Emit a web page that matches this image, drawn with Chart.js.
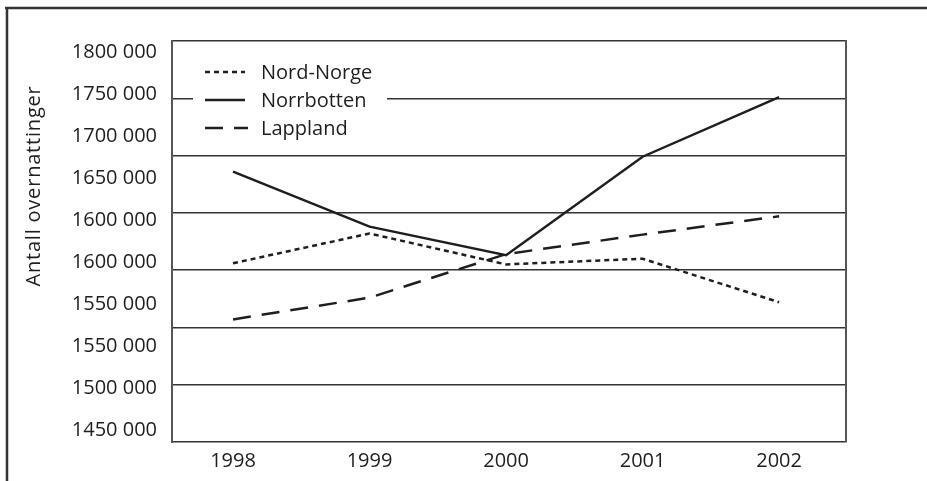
<!DOCTYPE html>
<html>
<head>
<meta charset="utf-8">
<script src="https://cdn.jsdelivr.net/npm/chart.js@4.4.1/dist/chart.umd.min.js"></script>
<style>
  body { margin: 0; background: #fff; }
  canvas { display: block; }
</style>
</head>
<body>
<canvas id="myChart" width="927" height="481"></canvas>
<script>
// data
const years = [1998, 1999, 2000, 2001, 2002];
const nordNorge  = [1606000, 1632000, 1605000, 1610000, 1572000];
const norrbotten = [1686000, 1638000, 1613000, 1699000, 1751000];
const lappland   = [1557000, 1576000, 1614000, 1631000, 1647000];

// the printed y labels (as in the original, duplicates included)
const yTickLabels = ['1800 000', '1750 000', '1700 000', '1650 000', '1600 000',
                     '1600 000', '1550 000', '1550 000', '1500 000', '1450 000'];
const yTitle = 'Antall overnattinger';

const ink = '#1e1e1e';
const fontFamily = '"Open Sans", sans-serif';
const fontSize = 20;

const toPoints = (arr) => arr.map((v, i) => ({ x: years[i], y: v }));

// legend box in the top left corner of the plot, white behind it
const boxLegend = {
  id: 'boxLegend',
  afterDatasetsDraw(chart) {
    const ctx = chart.ctx;
    ctx.save();
    ctx.fillStyle = '#fff';
    ctx.fillRect(193, 55, 194, 90);
    const rows = [72, 100, 128];
    chart.data.datasets.forEach((ds, i) => {
      const y = rows[i];
      ctx.beginPath();
      ctx.setLineDash(ds.borderDash || []);
      ctx.lineWidth = ds.borderWidth;
      ctx.strokeStyle = ds.borderColor;
      ctx.moveTo(205, y);
      ctx.lineTo(i === 2 ? 248 : 245, y);
      ctx.stroke();
      ctx.setLineDash([]);
      ctx.fillStyle = ink;
      ctx.font = `${fontSize}px ${fontFamily}`;
      ctx.textBaseline = 'middle';
      ctx.textAlign = 'left';
      ctx.fillText(ds.label, 261, y + 1);
    });
    ctx.restore();
  },
  afterDraw(chart) {
    const ctx = chart.ctx;
    ctx.save();
    // outer frame, top and left only
    ctx.strokeStyle = '#333';
    ctx.lineWidth = 2.5;
    ctx.beginPath();
    ctx.moveTo(5, 8);
    ctx.lineTo(927, 8);
    ctx.moveTo(7, 8);
    ctx.lineTo(7, 481);
    ctx.stroke();
    // rotated axis title
    ctx.translate(34, 186);
    ctx.rotate(-Math.PI / 2);
    ctx.font = `${fontSize}px ${fontFamily}`;
    ctx.letterSpacing = '0.8px';
    ctx.fillStyle = ink;
    ctx.textAlign = 'center';
    ctx.textBaseline = 'middle';
    ctx.fillText(yTitle, 0, 0);
    ctx.restore();
  }
};

const ctx = document.getElementById('myChart');
new Chart(ctx, {
  type: 'line',
  data: {
    datasets: [
      { label: 'Nord-Norge', data: toPoints(nordNorge), yAxisID: 'y', borderColor: ink, borderWidth: 2.5, borderDash: [5, 4] },
      { label: 'Norrbotten', data: toPoints(norrbotten), yAxisID: 'y', borderColor: ink, borderWidth: 2.5 },
      { label: 'Lappland', data: toPoints(lappland), yAxisID: 'y', borderColor: ink, borderWidth: 2.5, borderDash: [18, 11] }
    ]
  },
  options: {
    responsive: false,
    animation: false,
    devicePixelRatio: 1,
    layout: { padding: { left: 0, top: 41, right: 81, bottom: 0 } },
    elements: {
      point: { radius: 0 },
      line: { tension: 0, borderCapStyle: 'butt', fill: false }
    },
    plugins: {
      legend: { display: false },
      tooltip: { enabled: false }
    },
    scales: {
      x: {
        type: 'linear',
        min: 1997.553,
        max: 2002.49,
        afterBuildTicks: (axis) => { axis.ticks = years.map(v => ({ value: v })); },
        afterFit: (axis) => { axis.height = 39; },
        grid: { display: false, drawTicks: false },
        border: { display: false },
        ticks: {
          padding: 7,
          color: ink,
          font: { family: fontFamily, size: fontSize },
          callback: (v) => String(v)
        }
      },
      yl: {
        type: 'linear',
        position: 'left',
        reverse: true,
        min: -11 / 42,
        max: 9 + 12 / 42,
        afterBuildTicks: (axis) => { axis.ticks = yTickLabels.map((_, i) => ({ value: i })); },
        afterFit: (axis) => { axis.width = 172; },
        grid: { display: false, drawTicks: false },
        border: { display: true, color: '#555', width: 2 },
        ticks: {
          autoSkip: false,
          padding: 15,
          color: ink,
          font: { family: fontFamily, size: fontSize },
          callback: (v) => yTickLabels[v]
        }
      },
      y: {
        type: 'linear',
        position: 'right',
        min: 1450000,
        max: 1800000,
        afterFit: (axis) => { axis.width = 0; },
        grid: { color: '#333', lineWidth: 1.5, drawTicks: false },
        border: { display: true, color: '#555', width: 2 },
        ticks: { display: false, stepSize: 50000 }
      }
    }
  },
  plugins: [boxLegend]
});
</script>
</body>
</html>
